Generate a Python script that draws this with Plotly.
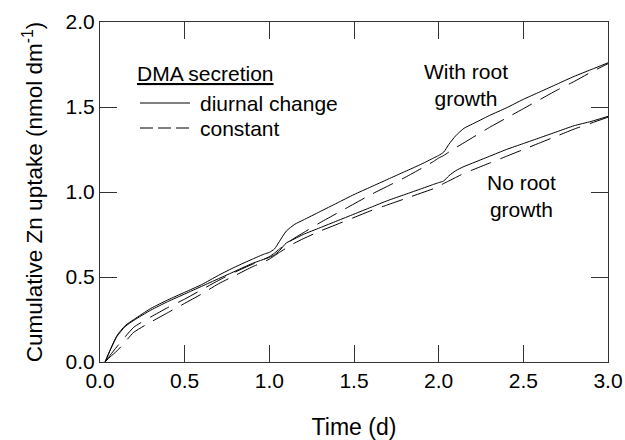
import plotly.graph_objects as go

# ---- data ----
time_d = [0.03, 0.06, 0.1, 0.15, 0.2, 0.3, 0.4, 0.5, 0.6, 0.7, 0.8, 0.9, 0.97, 1.0,
          1.03, 1.06, 1.1, 1.15, 1.2, 1.3, 1.4, 1.5, 1.6, 1.7, 1.8, 1.9, 1.97, 2.0,
          2.03, 2.06, 2.1, 2.15, 2.2, 2.3, 2.4, 2.5, 2.6, 2.7, 2.8, 2.9, 3.0]

diurnal_root = [0.0, 0.07, 0.155, 0.215, 0.25, 0.315, 0.365, 0.41, 0.455, 0.51, 0.56, 0.605, 0.635, 0.645,
                0.665, 0.71, 0.77, 0.81, 0.835, 0.885, 0.935, 0.985, 1.03, 1.075, 1.12, 1.165, 1.2, 1.215,
                1.235, 1.28, 1.33, 1.375, 1.40, 1.45, 1.495, 1.545, 1.59, 1.635, 1.68, 1.72, 1.76]

constant_root = [0.0, 0.04, 0.09, 0.15, 0.205, 0.265, 0.32, 0.37, 0.425, 0.48, 0.53, 0.575, 0.605, 0.62,
                 0.64, 0.665, 0.695, 0.73, 0.76, 0.82, 0.875, 0.93, 0.985, 1.035, 1.085, 1.14, 1.18, 1.2,
                 1.215, 1.235, 1.26, 1.29, 1.32, 1.38, 1.435, 1.49, 1.545, 1.60, 1.65, 1.705, 1.755]

diurnal_noroot = [0.0, 0.07, 0.15, 0.21, 0.245, 0.305, 0.355, 0.40, 0.445, 0.49, 0.535, 0.58, 0.605, 0.615,
                  0.63, 0.655, 0.70, 0.725, 0.75, 0.79, 0.83, 0.87, 0.91, 0.95, 0.985, 1.02, 1.045, 1.055,
                  1.065, 1.095, 1.125, 1.15, 1.17, 1.21, 1.25, 1.285, 1.32, 1.355, 1.39, 1.415, 1.445]

constant_noroot = [0.0, 0.03, 0.065, 0.12, 0.175, 0.235, 0.29, 0.345, 0.40, 0.46, 0.51, 0.56, 0.59, 0.605,
                   0.625, 0.645, 0.67, 0.70, 0.725, 0.77, 0.81, 0.85, 0.89, 0.925, 0.96, 0.995, 1.02, 1.035,
                   1.05, 1.065, 1.085, 1.11, 1.13, 1.17, 1.21, 1.25, 1.29, 1.33, 1.37, 1.405, 1.44]

x_ticks = [0.0, 0.5, 1.0, 1.5, 2.0, 2.5, 3.0]
x_tick_labels = ["0.0", "0.5", "1.0", "1.5", "2.0", "2.5", "3.0"]
y_ticks = [0.0, 0.5, 1.0, 1.5, 2.0]
y_tick_labels = ["0.0", "0.5", "1.0", "1.5", "2.0"]

FONT = "Liberation Sans, Arial, sans-serif"
CURVE_DASH = "22px,10px"
AXIS_COLOR = "#333333"

fig = go.Figure()
series = [
    (diurnal_root, "solid", "diurnal change, with root growth"),
    (constant_root, CURVE_DASH, "constant, with root growth"),
    (diurnal_noroot, "solid", "diurnal change, no root growth"),
    (constant_noroot, CURVE_DASH, "constant, no root growth"),
]
for vals, dash, name in series:
    fig.add_trace(go.Scatter(x=time_d, y=vals, mode="lines", name=name,
                             line=dict(color="black", width=1, dash=dash, shape="spline", smoothing=0.6),
                             showlegend=False))

fig.update_layout(
    template="none",
    width=625, height=440,
    margin=dict(l=100, r=17, t=22, b=78),
    paper_bgcolor="white", plot_bgcolor="white",
    font=dict(family=FONT, color="black"),
)

fig.update_xaxes(range=[0, 3], tickmode="array", tickvals=x_ticks, ticktext=x_tick_labels,
                 title=dict(text="Time (d)", font=dict(family=FONT, size=23, color="black"), standoff=28),
                 showline=True, linecolor=AXIS_COLOR, linewidth=1, mirror="ticks",
                 ticks="inside", ticklen=17, tickwidth=1, tickcolor=AXIS_COLOR,
                 showgrid=False, zeroline=False, automargin=False,
                 tickfont=dict(family=FONT, size=21, color="black"))
fig.update_yaxes(range=[0, 2], tickmode="array", tickvals=y_ticks, ticktext=y_tick_labels,
                 title=dict(text="Cumulative Zn uptake (nmol dm<sup>-1</sup>)",
                            font=dict(family=FONT, size=22.5, color="black"), standoff=16),
                 showline=True, linecolor=AXIS_COLOR, linewidth=1, mirror="ticks",
                 ticks="inside", ticklen=17, tickwidth=1, tickcolor=AXIS_COLOR,
                 showgrid=False, zeroline=False, automargin=False,
                 tickfont=dict(family=FONT, size=21, color="black"))

# legend (drawn manually to match the reference layout)
fig.add_annotation(xref="paper", yref="paper", x=(135 - 100) / 508, y=(362 - 73) / 340,
                   text="<u>DMA secretion</u>", showarrow=False, xanchor="left", yanchor="middle",
                   font=dict(family=FONT, size=21, color="black"))
fig.add_shape(type="line", xref="paper", yref="paper",
              x0=(140 - 100) / 508, x1=(190 - 100) / 508, y0=(362 - 103) / 340, y1=(362 - 103) / 340,
              line=dict(color="black", width=1))
fig.add_annotation(xref="paper", yref="paper", x=(198 - 100) / 508, y=(362 - 103) / 340,
                   text="diurnal change", showarrow=False, xanchor="left", yanchor="middle",
                   font=dict(family=FONT, size=21, color="black"))
fig.add_shape(type="line", xref="paper", yref="paper",
              x0=(140 - 100) / 508, x1=(190 - 100) / 508, y0=(362 - 128) / 340, y1=(362 - 128) / 340,
              line=dict(color="black", width=1, dash="13px,5px"))
fig.add_annotation(xref="paper", yref="paper", x=(198 - 100) / 508, y=(362 - 128) / 340,
                   text="constant", showarrow=False, xanchor="left", yanchor="middle",
                   font=dict(family=FONT, size=21, color="black"))

# curve labels
fig.add_annotation(x=2.16, y=1.63, text="With root<br>growth", showarrow=False,
                   font=dict(family=FONT, size=21, color="black"), align="center")
fig.add_annotation(x=2.49, y=0.975, text="No root<br>growth", showarrow=False,
                   font=dict(family=FONT, size=21, color="black"), align="center")

fig.write_html("out.html")
